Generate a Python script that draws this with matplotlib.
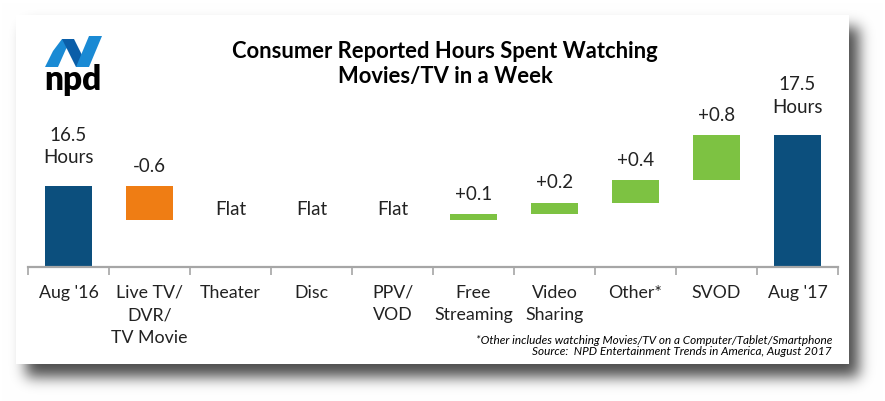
import numpy as np
import matplotlib
matplotlib.use("Agg")
import matplotlib.pyplot as plt
from matplotlib.patches import Rectangle, Polygon

plt.rcParams["font.family"] = ["Lato", "DejaVu Sans"]

categories = ["Aug '16", "Live TV/\nDVR/\nTV Movie", "Theater", "Disc", "PPV/\nVOD",
              "Free\nStreaming", "Video\nSharing", "Other*", "SVOD", "Aug '17"]
start_hours = 16.5
end_hours = 17.5
changes = [-0.6, 0.0, 0.0, 0.0, 0.1, 0.2, 0.4, 0.8]
change_labels = ["-0.6", "Flat", "Flat", "Flat", "+0.1", "+0.2", "+0.4", "+0.8"]

W, H = 885, 402
fig = plt.figure(figsize=(W / 100, H / 100), dpi=100)

# background card with soft shadow
bg = fig.add_axes([0, 0, 1, 1])
bg.set_xlim(0, W)
bg.set_ylim(H, 0)
bg.axis("off")

card = (16, 16, 849, 365)
mask = np.zeros((H, W))
mask[card[1] + 12:card[3] + 13, card[0] + 10:card[2] + 10] = 1.0
k = np.exp(-0.5 * (np.arange(-24, 25) / 7.0) ** 2)
k /= k.sum()
mask = np.apply_along_axis(lambda r: np.convolve(r, k, mode="same"), 1, mask)
mask = np.apply_along_axis(lambda c: np.convolve(c, k, mode="same"), 0, mask)
shade = 1 - 0.7 * mask
img = np.dstack([shade, shade, shade])
bg.imshow(img, extent=(0, W, H, 0), interpolation="bilinear", zorder=0)
bg.add_patch(Rectangle((card[0], card[1]), card[2] - card[0], card[3] - card[1],
                       facecolor="white", edgecolor="none", zorder=1))

# npd logo
bg.add_patch(Polygon([(45, 68), (58, 68), (66, 50), (74, 40), (62, 40), (53, 52)],
                     closed=True, facecolor="#1a8ad4", edgecolor="none", zorder=2))
bg.add_patch(Polygon([(62, 40), (74, 40), (88, 68), (76, 68)],
                     closed=True, facecolor="#0b5ea8", edgecolor="none", zorder=2))
bg.add_patch(Polygon([(76, 68), (89, 68), (102, 37), (89, 37)],
                     closed=True, facecolor="#1a8ad4", edgecolor="none", zorder=2))
bg.text(73, 90, "npd", ha="center", va="baseline", fontsize=24, fontweight="heavy",
        color="black", zorder=3)

# title
bg.text(445, 64, "Consumer Reported Hours Spent Watching\nMovies/TV in a Week",
        ha="center", va="center", fontsize=15.8, fontweight="bold", color="black",
        linespacing=1.2, zorder=3)

# footnote
bg.text(832, 346, "*Other includes watching Movies/TV on a Computer/Tablet/Smartphone\n"
        "Source:  NPD Entertainment Trends in America, August 2017",
        ha="right", va="center", fontsize=8.5, style="italic", color="black",
        linespacing=1.05, zorder=3)

# waterfall axes
ax = fig.add_axes([28 / W, 1 - 268 / H, 810 / W, 150 / H])
ax.patch.set_alpha(0)
ymin = 15.06
ax.set_ylim(ymin, ymin + 150 / 56.2)
ax.set_xlim(-0.5, len(categories) - 0.5)

bar_w = 0.57
blue, orange, green = "#0c4f7d", "#ef7d14", "#7dc242"
text_col = "#222222"

levels = np.cumsum([start_hours] + changes)
ax.bar(0, start_hours - ymin, bottom=ymin, width=bar_w, color=blue)
for i, ch in enumerate(changes, start=1):
    prev, cur = levels[i - 1], levels[i]
    if ch != 0:
        ax.bar(i, abs(ch), bottom=min(prev, cur), width=bar_w,
               color=green if ch > 0 else orange)
    ax.annotate(change_labels[i - 1], (i, max(prev, cur)), xytext=(0, 2 if ch == 0 else 9),
                textcoords="offset points", ha="center", va="bottom",
                fontsize=13.5, color=text_col, annotation_clip=False)
last = len(categories) - 1
ax.bar(last, levels[-1] - ymin, bottom=ymin, width=bar_w, color=blue)

ax.annotate(f"{start_hours}\nHours", (0, start_hours), xytext=(0, 15),
            textcoords="offset points", ha="center", va="bottom", fontsize=13.5,
            color=text_col, linespacing=1.4, annotation_clip=False)
ax.annotate(f"{end_hours}\nHours", (last, levels[-1]), xytext=(0, 15),
            textcoords="offset points", ha="center", va="bottom", fontsize=13.5,
            color=text_col, linespacing=1.4, annotation_clip=False)

for s in ["top", "right", "left"]:
    ax.spines[s].set_visible(False)
ax.spines["bottom"].set_color("#a6a6a6")
ax.spines["bottom"].set_linewidth(1.6)
ax.set_yticks([])
ax.set_xticks(range(len(categories)))
ax.set_xticklabels(categories, fontsize=12.8, color=text_col, linespacing=1.5, va="top")
ax.set_xticks(np.arange(-0.5, len(categories)), minor=True)
ax.tick_params(axis="x", which="major", length=0, pad=12)
ax.tick_params(axis="x", which="minor", length=6, width=1.2, color="#a6a6a6", direction="out")

fig.savefig("out.png", dpi=100)
